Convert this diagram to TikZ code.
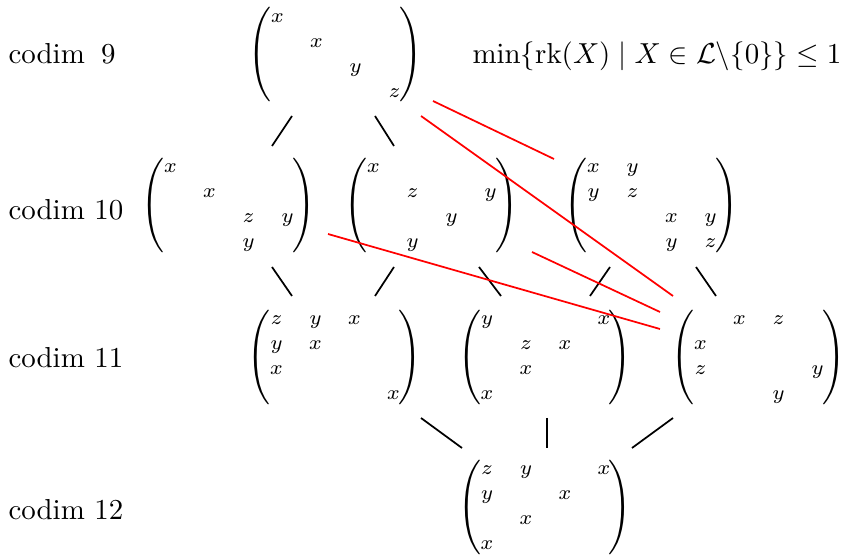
\documentclass[tikz,border=0pt]{standalone}
\usepackage{amsmath,amssymb,graphicx}
\usetikzlibrary{matrix}
\tikzset{
  mat/.style={matrix of math nodes, ampersand replacement=\&, inner sep=0pt, outer sep=0pt,
    column sep=0pt, row sep=0pt,
    nodes={inner sep=0pt, outer sep=0pt, minimum width=13.5pt, text height=4.9pt, text depth=3.75pt, font=\scriptsize}},
  par/.style={inner sep=0pt, outer sep=0pt},
  lbl/.style={anchor=base west, inner sep=0pt},
  conn/.style={line width=0.6pt, black},
  redconn/.style={line width=0.6pt, red},
}
\newcommand\pmat[3]{%
  \matrix[mat] (#1) at #2 {#3};
  \node[par, anchor=west] (#1-lp) at ([shift={(-9,-3)}]#1.west) {\scalebox{1}[1.09]{$\Bigg($}};
  \node[par, anchor=east] (#1-rp) at ([shift={(8,-3)}]#1.east) {\scalebox{1}[1.09]{$\Bigg)$}};
}
\begin{document}
\begin{tikzpicture}[x=0.346pt,y=-0.346pt]
\path[use as bounding box] (0,0) rectangle (851,556);
% matrices
\pmat{m9}{(336,58)}{x \& \& \& \\ \& x \& \& \\ \& \& y \& \\ \& \& \& z \\}
\pmat{m10a}{(229,208.5)}{x \& \& \& \\ \& x \& \& \\ \& \& z \& y \\ \& \& y \& \\}
\pmat{m10b}{(432,208.5)}{x \& \& \& \\ \& z \& \& y \\ \& \& y \& \\ \& y \& \& \\}
\pmat{m10c}{(652,208.5)}{x \& y \& \& \\ y \& z \& \& \\ \& \& x \& y \\ \& \& y \& z \\}
\pmat{m11a}{(335,360.5)}{z \& y \& x \& \\ y \& x \& \& \\ x \& \& \& \\ \& \& \& x \\}
\pmat{m11b}{(545.5,360.5)}{y \& \& \& x \\ \& z \& x \& \\ \& x \& \& \\ x \& \& \& \\}
\pmat{m11c}{(759,360.5)}{\& x \& z \& \\ x \& \& \& \\ z \& \& \& y \\ \& \& y \& \\}
\pmat{m12}{(545.5,510.5)}{z \& y \& \& x \\ y \& \& x \& \\ \& x \& \& \\ x \& \& \& \\}
% labels
\node[lbl] (c9) at (8,64) {codim\hspace{5.6pt}9};
\node[lbl] (c10) at (8,220) {codim 10};
\node[lbl] (c11) at (8,368) {codim 11};
\node[lbl] (c12) at (8,520) {codim 12};
\node[lbl] (cond) at (472,64) {$\min\{\mathrm{rk}(X)\mid X\in\mathcal{L}\backslash\{0\}\}\leq 1$};
% connector end points
\coordinate (a1) at (292,116); \coordinate (a2) at (272,146);
\coordinate (b1) at (375,116); \coordinate (b2) at (394,146);
\coordinate (c1) at (272,267); \coordinate (c2) at (292,296);
\coordinate (d1) at (394,267); \coordinate (d2) at (375,296);
\coordinate (e1) at (479,267); \coordinate (e2) at (501,296);
\coordinate (f1) at (610,267); \coordinate (f2) at (590,296);
\coordinate (g1) at (696,267); \coordinate (g2) at (716,296);
\coordinate (h1) at (421,418); \coordinate (h2) at (462,448);
\coordinate (i1) at (547,418); \coordinate (i2) at (547,448);
\coordinate (j1) at (673,418); \coordinate (j2) at (632,448);
\coordinate (r1a) at (433,101); \coordinate (r1b) at (554,159);
\coordinate (r2a) at (421,116); \coordinate (r2b) at (673,296);
\coordinate (r3a) at (328,234); \coordinate (r3b) at (660,329);
\coordinate (r4a) at (532,252); \coordinate (r4b) at (660,312);
% black connectors
\draw[conn] (a1) -- (a2);
\draw[conn] (b1) -- (b2);
\draw[conn] (c1) -- (c2);
\draw[conn] (d1) -- (d2);
\draw[conn] (e1) -- (e2);
\draw[conn] (f1) -- (f2);
\draw[conn] (g1) -- (g2);
\draw[conn] (h1) -- (h2);
\draw[conn] (i1) -- (i2);
\draw[conn] (j1) -- (j2);
% red connectors
\draw[redconn] (r1a) -- (r1b);
\draw[redconn] (r2a) -- (r2b);
\draw[redconn] (r3a) -- (r3b);
\draw[redconn] (r4a) -- (r4b);
\end{tikzpicture}
\end{document}
